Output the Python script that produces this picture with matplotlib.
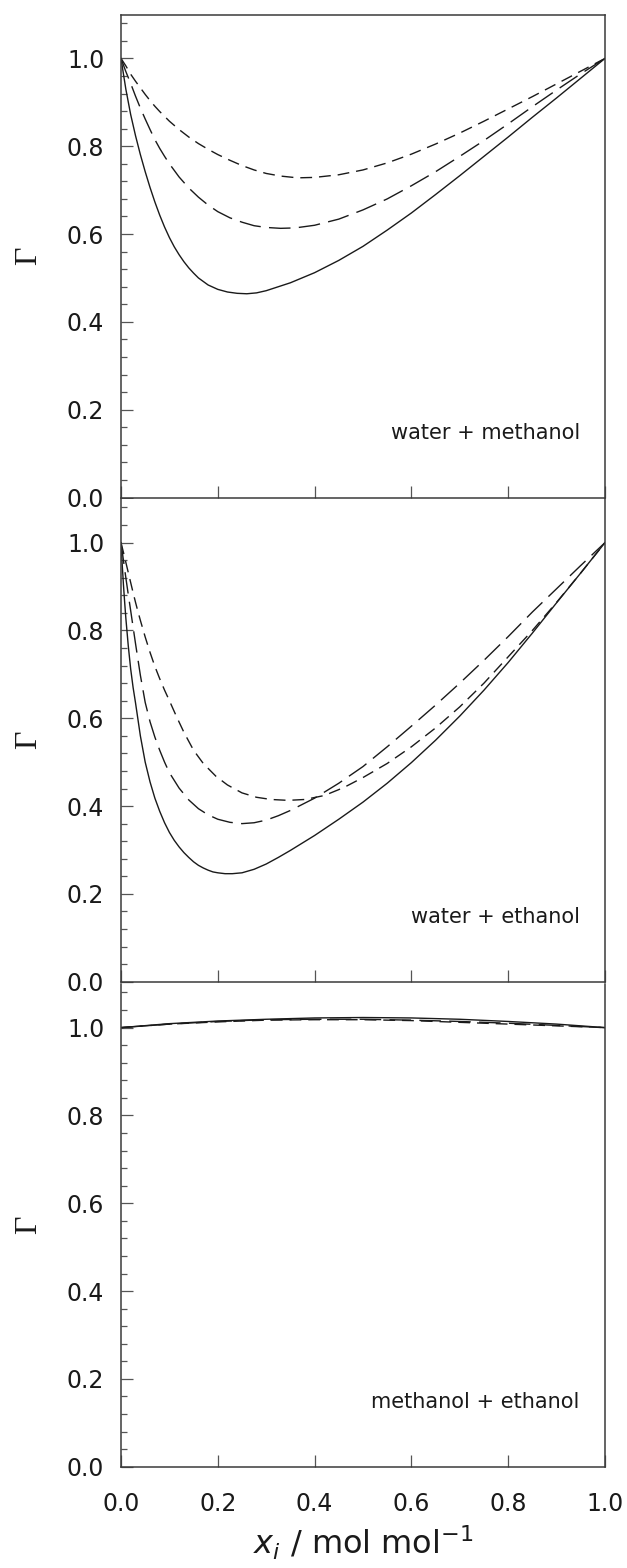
import matplotlib
matplotlib.use("Agg")
import matplotlib.pyplot as plt
from matplotlib.ticker import MultipleLocator, FixedLocator

plt.rcParams['font.family'] = ['DejaVu Sans']
plt.rcParams['mathtext.fontset'] = 'dejavusans'
plt.rcParams['lines.scale_dashes'] = False

# ---------------- data ----------------
# water + methanol
wm_solid_x = [0, 0.01, 0.02, 0.03, 0.04, 0.05, 0.06, 0.07, 0.08, 0.09, 0.10, 0.11, 0.12, 0.13, 0.14, 0.15, 0.16, 0.18, 0.20, 0.22, 0.24, 0.26, 0.28, 0.30, 0.35, 0.40, 0.45, 0.50, 0.55, 0.60, 0.65, 0.70, 0.75, 0.80, 0.85, 0.90, 0.95, 1.0]
wm_solid_y = [1.0, 0.930, 0.872, 0.824, 0.781, 0.742, 0.706, 0.673, 0.643, 0.616, 0.592, 0.571, 0.553, 0.537, 0.523, 0.511, 0.500, 0.484, 0.474, 0.468, 0.465, 0.464, 0.466, 0.471, 0.489, 0.512, 0.540, 0.572, 0.609, 0.648, 0.690, 0.733, 0.777, 0.821, 0.866, 0.910, 0.955, 1.0]
wm_ldash_x = [0, 0.01, 0.02, 0.03, 0.04, 0.05, 0.06, 0.07, 0.08, 0.09, 0.10, 0.12, 0.14, 0.16, 0.18, 0.20, 0.225, 0.25, 0.275, 0.30, 0.33, 0.36, 0.40, 0.45, 0.50, 0.55, 0.60, 0.65, 0.70, 0.75, 0.80, 0.85, 0.90, 0.95, 1.0]
wm_ldash_y = [1.0, 0.970, 0.943, 0.914, 0.887, 0.862, 0.838, 0.815, 0.795, 0.777, 0.760, 0.730, 0.705, 0.684, 0.666, 0.651, 0.637, 0.627, 0.619, 0.615, 0.613, 0.614, 0.620, 0.634, 0.655, 0.680, 0.710, 0.742, 0.777, 0.813, 0.851, 0.890, 0.928, 0.965, 1.0]
wm_sdash_x = [0, 0.01, 0.02, 0.03, 0.04, 0.05, 0.06, 0.07, 0.08, 0.10, 0.12, 0.14, 0.16, 0.18, 0.20, 0.225, 0.25, 0.275, 0.30, 0.33, 0.365, 0.40, 0.45, 0.50, 0.55, 0.60, 0.65, 0.70, 0.75, 0.80, 0.85, 0.90, 0.95, 1.0]
wm_sdash_y = [1.0, 0.983, 0.964, 0.948, 0.933, 0.918, 0.904, 0.891, 0.879, 0.857, 0.838, 0.821, 0.806, 0.793, 0.781, 0.768, 0.756, 0.746, 0.738, 0.732, 0.728, 0.729, 0.735, 0.746, 0.762, 0.782, 0.805, 0.830, 0.857, 0.885, 0.913, 0.942, 0.971, 1.0]

# water + ethanol
we_solid_x = [0, 0.0025, 0.005, 0.0075, 0.01, 0.015, 0.02, 0.025, 0.03, 0.04, 0.05, 0.06, 0.07, 0.08, 0.09, 0.10, 0.11, 0.12, 0.13, 0.14, 0.15, 0.16, 0.17, 0.18, 0.19, 0.20, 0.215, 0.23, 0.25, 0.275, 0.30, 0.325, 0.35, 0.40, 0.45, 0.50, 0.55, 0.60, 0.65, 0.70, 0.75, 0.80, 0.85, 0.90, 0.95, 1.0]
we_solid_y = [1.0, 0.950, 0.905, 0.865, 0.828, 0.765, 0.712, 0.670, 0.635, 0.560, 0.500, 0.455, 0.418, 0.388, 0.362, 0.340, 0.322, 0.307, 0.294, 0.283, 0.273, 0.265, 0.259, 0.254, 0.250, 0.248, 0.246, 0.246, 0.248, 0.256, 0.268, 0.283, 0.299, 0.333, 0.370, 0.409, 0.452, 0.499, 0.550, 0.605, 0.664, 0.727, 0.794, 0.863, 0.931, 1.0]
we_ldash_x = [0, 0.005, 0.01, 0.015, 0.02, 0.03, 0.04, 0.05, 0.06, 0.07, 0.08, 0.09, 0.10, 0.12, 0.14, 0.16, 0.18, 0.20, 0.225, 0.25, 0.275, 0.30, 0.325, 0.35, 0.40, 0.45, 0.50, 0.55, 0.60, 0.65, 0.70, 0.75, 0.80, 0.85, 0.90, 0.95, 1.0]
we_ldash_y = [1.0, 0.960, 0.920, 0.882, 0.845, 0.770, 0.698, 0.636, 0.592, 0.557, 0.527, 0.500, 0.476, 0.441, 0.414, 0.394, 0.380, 0.370, 0.363, 0.360, 0.362, 0.368, 0.378, 0.390, 0.418, 0.452, 0.490, 0.535, 0.582, 0.630, 0.680, 0.732, 0.786, 0.842, 0.895, 0.948, 1.0]
we_sdash_x = [0, 0.005, 0.01, 0.015, 0.02, 0.025, 0.03, 0.035, 0.04, 0.05, 0.06, 0.07, 0.08, 0.09, 0.10, 0.115, 0.13, 0.15, 0.17, 0.196, 0.22, 0.25, 0.28, 0.31, 0.345, 0.38, 0.42, 0.46, 0.50, 0.55, 0.60, 0.65, 0.70, 0.75, 0.80, 0.85, 0.90, 0.95, 1.0]
we_sdash_y = [1.0, 0.978, 0.955, 0.932, 0.909, 0.886, 0.864, 0.843, 0.823, 0.785, 0.750, 0.718, 0.690, 0.664, 0.640, 0.603, 0.568, 0.527, 0.497, 0.468, 0.448, 0.430, 0.420, 0.415, 0.413, 0.415, 0.424, 0.442, 0.465, 0.497, 0.535, 0.578, 0.626, 0.680, 0.740, 0.800, 0.864, 0.931, 1.0]

# methanol + ethanol
me_x = [0, 0.1, 0.2, 0.3, 0.4, 0.5, 0.6, 0.7, 0.8, 0.9, 1.0]
me_solid_y = [1.0, 1.009, 1.015, 1.019, 1.022, 1.023, 1.022, 1.019, 1.014, 1.008, 1.0]
me_ldash_y = [1.0, 1.008, 1.014, 1.018, 1.019, 1.019, 1.017, 1.014, 1.010, 1.005, 1.0]
me_sdash_y = [1.0, 1.008, 1.013, 1.017, 1.018, 1.018, 1.016, 1.012, 1.008, 1.004, 1.0]

panel_labels = ["water + methanol", "water + ethanol", "methanol + ethanol"]
y_ticks = [0.0, 0.2, 0.4, 0.6, 0.8, 1.0]
x_ticks = [0.0, 0.2, 0.4, 0.6, 0.8, 1.0]
y_tick_labels = ["0.0", "0.2", "0.4", "0.6", "0.8", "1.0"]
x_tick_labels = ["0.0", "0.2", "0.4", "0.6", "0.8", "1.0"]

panels = [
    [(wm_solid_x, wm_solid_y), (wm_ldash_x, wm_ldash_y), (wm_sdash_x, wm_sdash_y)],
    [(we_solid_x, we_solid_y), (we_ldash_x, we_ldash_y), (we_sdash_x, we_sdash_y)],
    [(me_x, me_solid_y), (me_x, me_ldash_y), (me_x, me_sdash_y)],
]

# ---------------- figure ----------------
fig = plt.figure(figsize=(6.27, 15.68), dpi=100)
left, width = 121 / 627, 484 / 627
ph = 483 / 1568
bottoms = [1 - 497.5 / 1568, 1 - 981.7 / 1568, 1 - 1466.7 / 1568]

line_color = '#1a1a1a'
spine_color = '#3a3a3a'
tick_color = '#555555'
styles = [dict(linestyle='-'),
          dict(linestyle=(0, (15.5, 6.0))),
          dict(linestyle=(0, (8.5, 5.0)))]

for i, (series, lab, b) in enumerate(zip(panels, panel_labels, bottoms)):
    ax = fig.add_axes([left, b, width, ph])
    for (xs, ys), st in zip(series, styles):
        ax.plot(xs, ys, color=line_color, lw=1.0, **st)
    ax.set_xlim(0, 1.0)
    ax.set_ylim(0, 1.1)
    ax.yaxis.set_major_locator(FixedLocator(y_ticks))
    ax.yaxis.set_minor_locator(MultipleLocator(0.04))
    ax.xaxis.set_major_locator(FixedLocator(x_ticks))
    ax.set_yticklabels(y_tick_labels)
    ax.tick_params(axis='both', which='major', direction='in', length=8.5,
                   width=0.9, color=tick_color, labelsize=17, labelcolor='#1a1a1a')
    ax.tick_params(axis='both', which='minor', direction='in', length=4.3,
                   width=0.9, color=tick_color)
    ax.tick_params(axis='y', which='major', pad=12)
    ax.tick_params(axis='x', which='major', pad=18)
    ax.tick_params(top=False, right=False, which='both')
    if i < 2:
        ax.tick_params(axis='x', labelbottom=False)
    else:
        ax.set_xticklabels(x_tick_labels)
        ax.set_xlabel(r'$x_i$ / mol mol$^{-1}$', fontsize=23, labelpad=6, color='#1a1a1a')
    for sp in ax.spines.values():
        sp.set_color(spine_color)
        sp.set_linewidth(1.1)
    if i > 0:
        ax.spines['top'].set_visible(False)
    yl = ax.set_ylabel('Γ', fontsize=23, family=['Liberation Serif', 'DejaVu Serif'],
                       color='#1a1a1a')
    yl.set_rotation_mode('default')
    yl.set_verticalalignment('center')
    yl.set_horizontalalignment('center')
    ax.yaxis.set_label_coords(-0.19, 0.5)
    ax.text(0.948, 0.148 / 1.1, lab, transform=ax.transAxes, ha='right', va='center',
            fontsize=15, color='#1a1a1a')

fig.savefig('out.png', dpi=100)
